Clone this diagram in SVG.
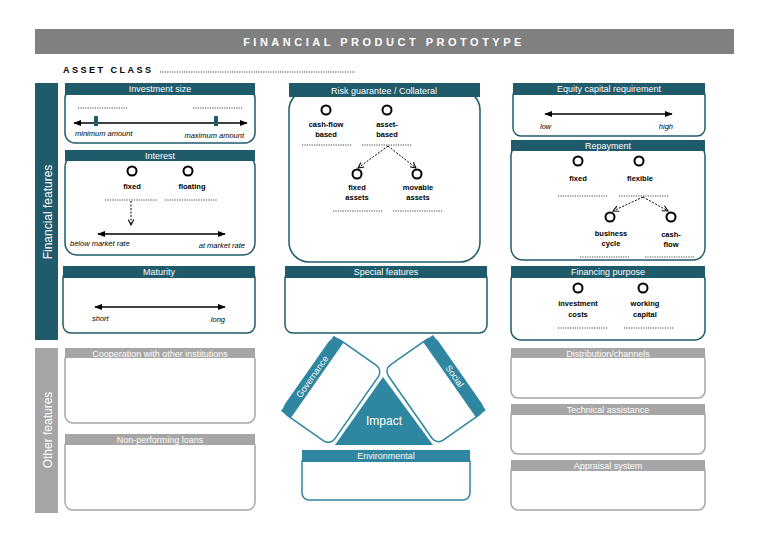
<svg xmlns="http://www.w3.org/2000/svg" width="768" height="543" viewBox="0 0 768 543">
<defs>
<marker id="ah" viewBox="0 0 10 10" refX="9" refY="5" markerWidth="6" markerHeight="6" orient="auto-start-reverse"><path d="M0,1 L10,5 L0,9 z" fill="#000"/></marker>
<marker id="oa" viewBox="0 0 10 10" refX="9" refY="5" markerWidth="7" markerHeight="7" orient="auto"><path d="M1,1 L9,5 L1,9" fill="none" stroke="#000" stroke-width="1.5"/></marker>
</defs>
<style>
text{font-family:"Liberation Sans",Arial,sans-serif}
.box{fill:#fff;stroke:#1f5b6b;stroke-width:1.5}
.gbox{fill:#fff;stroke:#a6a6a6;stroke-width:1.5}
.tbox{fill:#fff;stroke:#2e86a0;stroke-width:1.5}
.hd{fill:#1f5b6b}
.ghd{fill:#a6a6a6}
.ht{fill:#fff;font-size:9px;text-anchor:middle}
.dot{stroke:#444;stroke-width:1;stroke-dasharray:1.2 1.2}
.ln{stroke:#000;stroke-width:1.3}
.da{stroke:#000;stroke-width:1;stroke-dasharray:2 1.5;fill:none}
.c{fill:#fff;stroke:#000;stroke-width:2}
.b{font-size:7.5px;font-weight:bold;text-anchor:middle}
.i{font-size:7.5px;font-style:italic}
</style>
<rect width="768" height="543" fill="#fff"/>
<g id="title"><rect x="35" y="29" width="699" height="25" fill="#808080"/><text x="384" y="46" fill="#fff" font-size="11" font-weight="bold" letter-spacing="3.5" text-anchor="middle">FINANCIAL PRODUCT PROTOTYPE</text></g>
<g id="asset-class"><text x="63" y="73" font-size="9" font-weight="bold" letter-spacing="2.5">ASSET CLASS</text><line class="dot" x1="160" y1="72" x2="355" y2="72"/></g>
<g id="financial-band"><rect x="35" y="83" width="23" height="257" fill="#1f5b6b"/><text transform="translate(52,212) rotate(-90)" fill="#fff" font-size="12" text-anchor="middle">Financial features</text></g>
<g id="other-band"><rect x="35" y="348" width="23" height="165" fill="#a6a6a6"/><text transform="translate(52,430) rotate(-90)" fill="#fff" font-size="12" text-anchor="middle">Other features</text></g>

<g id="investment-size"><rect class="box" x="65" y="88" width="190" height="55" rx="10"/><rect class="hd" x="65" y="83" width="190" height="12"/><text class="ht" x="160" y="92">Investment size</text>
<line class="dot" x1="78" y1="108" x2="128" y2="108"/><line class="dot" x1="193" y1="108" x2="243" y2="108"/>
<line class="ln" x1="74" y1="123" x2="247" y2="123" marker-start="url(#ah)" marker-end="url(#ah)"/>
<rect x="94" y="116" width="4" height="10" fill="#1f5b6b"/><rect x="214" y="116" width="4" height="10" fill="#1f5b6b"/>
<text class="i" x="75" y="136">minimum amount</text><text class="i" x="244" y="138" text-anchor="end">maximum amount</text></g>

<g id="interest"><rect class="box" x="65" y="155" width="190" height="100" rx="12"/><rect class="hd" x="65" y="150" width="190" height="11"/><text class="ht" x="160" y="158.5">Interest</text>
<circle class="c" cx="132" cy="171" r="4.5"/><circle class="c" cx="188" cy="171" r="4.5"/>
<text class="b" x="132" y="189">fixed</text><text class="b" x="192" y="189">floating</text>
<line class="dot" x1="105" y1="200" x2="157" y2="200"/><line class="dot" x1="165" y1="200" x2="217" y2="200"/>
<line class="da" x1="131" y1="201" x2="131" y2="225" marker-end="url(#oa)"/>
<line class="ln" x1="98" y1="234" x2="225" y2="234" marker-start="url(#ah)" marker-end="url(#ah)"/>
<text class="i" x="70" y="246">below market rate</text><text class="i" x="245" y="248" text-anchor="end">at market rate</text></g>

<g id="maturity"><rect class="box" x="63" y="270" width="192" height="63" rx="8"/><rect class="hd" x="63" y="266" width="192" height="12"/><text class="ht" x="159" y="275">Maturity</text>
<line class="ln" x1="95" y1="307" x2="225" y2="307" marker-start="url(#ah)" marker-end="url(#ah)"/>
<text class="i" x="92" y="321">short</text><text class="i" x="225" y="322" text-anchor="end">long</text></g>

<g id="cooperation"><rect class="gbox" x="65" y="352" width="190" height="71" rx="8"/><rect class="ghd" x="65" y="348" width="190" height="10"/><text class="ht" x="160" y="356.5">Cooperation with other institutions</text></g>
<g id="non-performing"><rect class="gbox" x="65" y="438" width="190" height="72" rx="8"/><rect class="ghd" x="65" y="434" width="190" height="11"/><text class="ht" x="160" y="443">Non-performing loans</text></g>

<g id="risk-guarantee"><rect class="box" x="289" y="90" width="191" height="172" rx="20"/><rect class="hd" x="289" y="83" width="191" height="14"/><text class="ht" x="384" y="93.5">Risk guarantee / Collateral</text>
<circle class="c" cx="326" cy="110" r="4.5"/><circle class="c" cx="387" cy="110" r="4.5"/>
<text class="b" x="326" y="127">cash-flow</text><text class="b" x="326" y="137">based</text>
<text class="b" x="387" y="127">asset-</text><text class="b" x="387" y="137">based</text>
<line class="dot" x1="302" y1="145" x2="352" y2="145"/><line class="dot" x1="362" y1="145" x2="412" y2="145"/>
<line class="da" x1="388" y1="146" x2="358" y2="168" marker-end="url(#oa)"/><line class="da" x1="388" y1="146" x2="416" y2="168" marker-end="url(#oa)"/>
<circle class="c" cx="357" cy="174" r="4.5"/><circle class="c" cx="417" cy="174" r="4.5"/>
<text class="b" x="357" y="190">fixed</text><text class="b" x="357" y="200">assets</text>
<text class="b" x="418" y="190">movable</text><text class="b" x="418" y="200">assets</text>
<line class="dot" x1="333" y1="211" x2="383" y2="211"/><line class="dot" x1="393" y1="211" x2="443" y2="211"/></g>

<g id="special-features"><rect class="box" x="285" y="271" width="202" height="62" rx="8"/><rect class="hd" x="285" y="266" width="202" height="12"/><text class="ht" x="386" y="275">Special features</text></g>

<g id="equity"><rect class="box" x="513" y="88" width="192" height="48" rx="8"/><rect class="hd" x="513" y="83" width="192" height="12"/><text class="ht" x="609" y="92">Equity capital requirement</text>
<line class="ln" x1="545" y1="114" x2="672" y2="114" marker-start="url(#ah)" marker-end="url(#ah)"/>
<text class="i" x="540" y="129">low</text><text class="i" x="673" y="129" text-anchor="end">high</text></g>

<g id="repayment"><rect class="box" x="511" y="144" width="194" height="116" rx="12"/><rect class="hd" x="511" y="140" width="194" height="11"/><text class="ht" x="608" y="148.5">Repayment</text>
<circle class="c" cx="578" cy="161" r="4.5"/><circle class="c" cx="639" cy="161" r="4.5"/>
<text class="b" x="578" y="181">fixed</text><text class="b" x="640" y="181">flexible</text>
<line class="dot" x1="558" y1="196" x2="608" y2="196"/><line class="dot" x1="619" y1="196" x2="669" y2="196"/>
<line class="da" x1="643" y1="197" x2="613" y2="211" marker-end="url(#oa)"/><line class="da" x1="643" y1="197" x2="668" y2="211" marker-end="url(#oa)"/>
<circle class="c" cx="610" cy="217" r="4.5"/><circle class="c" cx="671" cy="217" r="4.5"/>
<text class="b" x="611" y="236">business</text><text class="b" x="611" y="246">cycle</text>
<text class="b" x="671" y="237">cash-</text><text class="b" x="671" y="247">flow</text>
<line class="dot" x1="580" y1="257" x2="630" y2="257"/><line class="dot" x1="645" y1="257" x2="695" y2="257"/></g>

<g id="financing-purpose"><rect class="box" x="511" y="270" width="194" height="70" rx="10"/><rect class="hd" x="511" y="266" width="194" height="12"/><text class="ht" x="608" y="275">Financing purpose</text>
<circle class="c" cx="578" cy="288" r="4.5"/><circle class="c" cx="643" cy="288" r="4.5"/>
<text class="b" x="578" y="306">investment</text><text class="b" x="578" y="317">costs</text>
<text class="b" x="645" y="306">working</text><text class="b" x="645" y="317">capital</text>
<line class="dot" x1="558" y1="328" x2="608" y2="328"/><line class="dot" x1="624" y1="328" x2="674" y2="328"/></g>

<g id="distribution"><rect class="gbox" x="511" y="352" width="194" height="46" rx="7"/><rect class="ghd" x="511" y="348" width="194" height="10"/><text class="ht" x="608" y="356.5">Distribution/channels</text></g>
<g id="technical-assistance"><rect class="gbox" x="511" y="408" width="194" height="46" rx="7"/><rect class="ghd" x="511" y="404" width="194" height="11"/><text class="ht" x="608" y="413">Technical assistance</text></g>
<g id="appraisal"><rect class="gbox" x="511" y="464" width="194" height="46" rx="7"/><rect class="ghd" x="511" y="460" width="194" height="11"/><text class="ht" x="608" y="469">Appraisal system</text></g>

<g id="governance" transform="translate(281,411) rotate(-55)"><rect class="tbox" x="0" y="0" width="92" height="60" rx="8"/><rect x="0" y="0" width="92" height="12" fill="#2e86a0"/><text class="ht" x="46" y="9">Governance</text></g>
<g id="social" transform="translate(433,335) rotate(55)"><rect class="tbox" x="0" y="0" width="92" height="60" rx="8"/><rect x="0" y="0" width="92" height="12" fill="#2e86a0"/><text class="ht" x="46" y="9">Social</text></g>
<g id="impact"><polygon points="383,377 335,445 433,445" fill="#2e86a0"/><text x="384" y="425" fill="#fff" font-size="12" text-anchor="middle">Impact</text></g>
<g id="environmental"><rect class="tbox" x="302" y="455" width="168" height="45" rx="7"/><rect x="302" y="450" width="168" height="12" fill="#2e86a0"/><text class="ht" x="386" y="459">Environmental</text></g>
</svg>
